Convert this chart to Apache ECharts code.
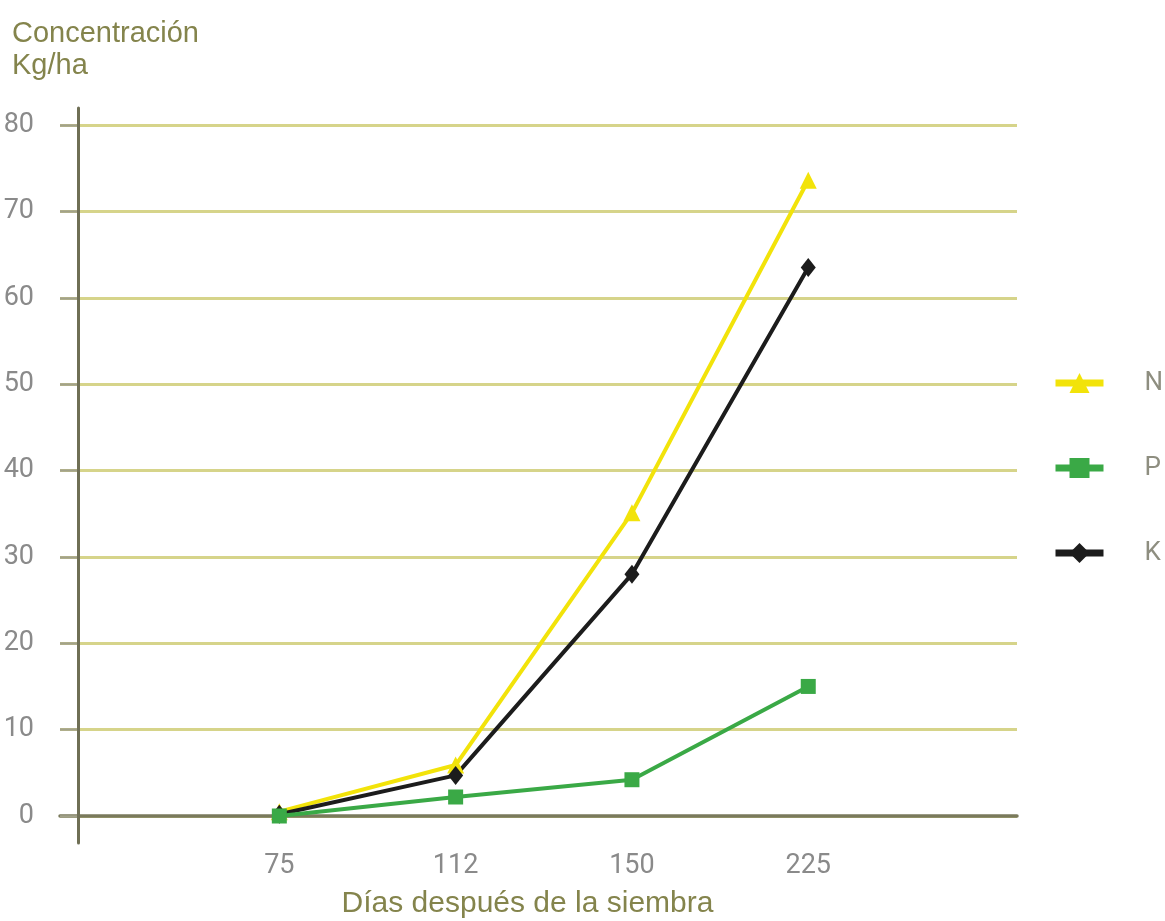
<!DOCTYPE html>
<html>
<head>
<meta charset="utf-8">
<script src="https://cdn.jsdelivr.net/npm/echarts@6/dist/echarts.min.js"></script>
<style>
  html, body { margin: 0; padding: 0; background: #ffffff; }
  #chart { width: 1165px; height: 921px; }
</style>
</head>
<body>
<div id="chart"></div>
<script>
// ---- data ----
const categories = ['75', '112', '150', '225'];
const seriesN = [0.5, 5.9, 35.1, 73.6];
const seriesP = [0, 2.2, 4.2, 15.0];
const seriesK = [0.2, 4.7, 28.0, 63.5];
const yTicks = [0, 10, 20, 30, 40, 50, 60, 70, 80];
const titleText = 'Concentración\nKg/ha';
const xName = 'Días después de la siembra';

const narrow = "Roboto, 'Liberation Sans', sans-serif";
const arial = "'Liberation Sans', Arial, sans-serif";
const olive = '#84844c';

function pts(arr) { return arr.map((v, i) => [i + 1, v]); }

const chart = echarts.init(document.getElementById('chart'), null, { renderer: 'canvas' });
chart.setOption({
  backgroundColor: '#ffffff',
  animation: false,
  title: {
    text: titleText,
    left: 7,
    top: 13,
    textStyle: { fontFamily: arial, fontSize: 29, fontWeight: 'normal', color: olive, lineHeight: 32 }
  },
  legend: {
    orient: 'vertical',
    left: 1047,
    top: 365,
    itemWidth: 48,
    itemHeight: 25,
    itemGap: 59,
    lineStyle: { width: 7 },
    textStyle: { fontFamily: narrow, fontSize: 26, color: '#8e8e80', padding: [0, 0, 0, 36] },
    data: ['N', 'P', 'K']
  },
  grid: [
    // main plot
    { left: 60, right: 148, top: 125, bottom: 105, outerBoundsMode: 'none', containLabel: false },
    // extended vertical axis line
    { left: 60, right: 148, top: 108, bottom: 78, outerBoundsMode: 'none', containLabel: false },
    // short grey tick strip left of the axis line
    { left: 60, right: 1087, top: 125, bottom: 105, outerBoundsMode: 'none', containLabel: false }
  ],
  xAxis: [
    {
      type: 'value', gridIndex: 0,
      min: -0.244, max: 5.184,
      name: xName,
      nameLocation: 'middle',
      nameGap: 73,
      nameTextStyle: { fontFamily: arial, fontSize: 30, color: olive, padding: [0, 22, 0, 0] },
      axisLine: { show: true, onZero: false, lineStyle: { color: '#7a7a5c', width: 3.5 } },
      axisTick: { show: false },
      splitLine: { show: false },
      axisLabel: {
        customValues: [1, 2, 3, 4],
        formatter: v => categories[Math.round(v) - 1] || '',
        margin: 37,
        fontFamily: narrow, fontSize: 27, color: '#8a8a8a'
      }
    },
    { type: 'value', gridIndex: 1, show: false, min: 0, max: 1 },
    { type: 'value', gridIndex: 2, show: false, min: 0, max: 1 }
  ],
  yAxis: [
    {
      type: 'value', gridIndex: 0,
      min: 0, max: 80, interval: 10,
      axisLine: { show: false },
      axisTick: { show: false },
      splitLine: { show: true, lineStyle: { color: '#d6d48a', width: 3 } },
      axisLabel: {
        margin: 26,
        fontFamily: narrow, fontSize: 27, color: '#8a8a8a',
        formatter: v => (yTicks.indexOf(v) >= 0 ? String(v) : '')
      }
    },
    {
      type: 'value', gridIndex: 1,
      min: -3.126, max: 81.968,
      offset: -18,
      z: 5,
      axisLine: { show: true, lineStyle: { color: '#6f6f55', width: 3 } },
      axisTick: { show: false },
      axisLabel: { show: false },
      splitLine: { show: false }
    },
    {
      type: 'value', gridIndex: 2,
      min: 0, max: 80, interval: 10,
      z: 1,
      axisLine: { show: false },
      axisTick: { show: false },
      axisLabel: { show: false },
      splitLine: { show: true, lineStyle: { color: '#a2a28a', width: 2.5 } }
    }
  ],
  series: [
    {
      name: 'N', type: 'line', xAxisIndex: 0, yAxisIndex: 0,
      data: pts(seriesN),
      symbol: 'triangle', symbolSize: 17,
      clip: false, z: 3,
      lineStyle: { color: '#f2e30a', width: 4 },
      itemStyle: { color: '#f2e30a' }
    },
    {
      name: 'P', type: 'line', xAxisIndex: 0, yAxisIndex: 0,
      data: pts(seriesP),
      symbol: 'rect', symbolSize: 15,
      clip: false, z: 4,
      lineStyle: { color: '#3aa946', width: 4 },
      itemStyle: { color: '#3aa946' }
    },
    {
      name: 'K', type: 'line', xAxisIndex: 0, yAxisIndex: 0,
      data: pts(seriesK),
      symbol: 'diamond', symbolSize: [15, 19],
      clip: false, z: 3,
      lineStyle: { color: '#1c1c1c', width: 4 },
      itemStyle: { color: '#1c1c1c' }
    }
  ]
});
</script>
</body>
</html>
